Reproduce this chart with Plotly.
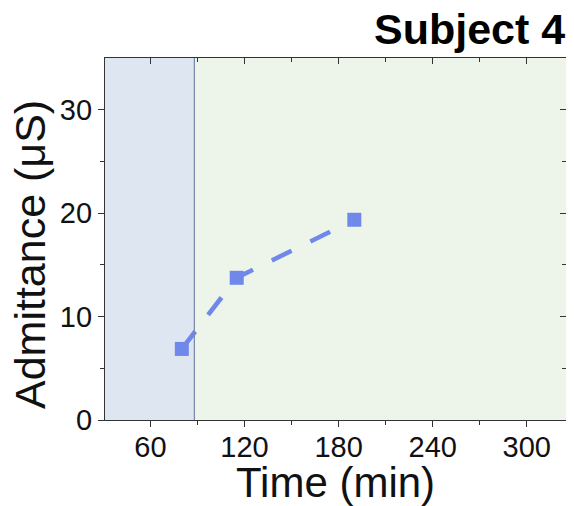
import plotly.graph_objects as go

time_min = [80, 115, 190]
admittance_uS = [6.87, 13.75, 19.36]
x_ticks = [60, 120, 180, 240, 300]
x_minor = [90, 150, 210, 270]
y_ticks = [0, 10, 20, 30]
y_minor = [5, 15, 25]
phase_split = 88
x_range = [31, 325]
y_range = [0, 35]

# page body has an 8px margin, so the figure is drawn 8px smaller and offset
OFF = 8
W, H = 574 - OFF, 506 - OFF
L, T = 105 - OFF, 58 - OFF
R, B = W - (566 - OFF), H - (420 - OFF)
pw, ph = W - L - R, H - T - B


def px_x(x):
    return (x - OFF - L) / pw


def px_y(y):
    return (T + ph - (y - OFF)) / ph


fig = go.Figure()
fig.add_vrect(x0=x_range[0], x1=phase_split, fillcolor="#dee6f2", line_width=0, layer="below")
fig.add_vrect(x0=phase_split, x1=x_range[1], fillcolor="#edf5ea", line_width=0, layer="below")
fig.add_vline(x=phase_split, line=dict(color="#7888a8", width=1.2))

fig.add_trace(go.Scatter(
    x=time_min, y=admittance_uS, mode="lines+markers",
    line=dict(color="#6f88ea", width=4.6, dash="22px,21px"),
    marker=dict(symbol="square", size=14, color="#6f88ea"),
    showlegend=False,
))
fig.add_trace(go.Scatter(x=[None], y=[None], xaxis="x2", yaxis="y2", showlegend=False))

fam = "Liberation Sans, Arial, sans-serif"
tickfont = dict(family=fam, size=29, color="#111")
common = dict(showgrid=False, zeroline=False, showline=True, linecolor="#333",
              linewidth=1.3, automargin=False)

fig.update_layout(
    width=W, height=H,
    margin=dict(l=L, r=R, t=T, b=B),
    plot_bgcolor="white", paper_bgcolor="white",
    xaxis=dict(range=x_range, tickvals=x_ticks, ticks="outside", ticklen=6, tickwidth=1.3,
               tickcolor="#333", tickfont=tickfont, ticklabelstandoff=-5,
               minor=dict(tickvals=x_minor, ticks="outside", ticklen=4, tickcolor="#333", tickwidth=1.3),
               **common),
    yaxis=dict(range=y_range, tickvals=y_ticks, ticks="outside", ticklen=6, tickwidth=1.3,
               tickcolor="#333", tickfont=tickfont,
               minor=dict(tickvals=y_minor, ticks="outside", ticklen=4, tickcolor="#333", tickwidth=1.3),
               **common),
    xaxis2=dict(range=x_range, overlaying="x", side="top", tickvals=x_ticks, ticks="inside",
                ticklen=6, tickwidth=1.3, tickcolor="#333", showticklabels=False,
                minor=dict(tickvals=x_minor, ticks="inside", ticklen=4, tickcolor="#333", tickwidth=1.3),
                **common),
    yaxis2=dict(range=y_range, overlaying="y", side="right", tickvals=y_ticks, ticks="inside",
                ticklen=6, tickwidth=1.3, tickcolor="#333", showticklabels=False,
                minor=dict(tickvals=y_minor, ticks="inside", ticklen=4, tickcolor="#333", tickwidth=1.3),
                **common),
    annotations=[
        dict(text="Time (min)", xref="paper", yref="paper", x=0.5, y=px_y(482),
             xanchor="center", yanchor="middle", showarrow=False,
             font=dict(family=fam, size=42, color="#111")),
        dict(text="Admittance (μS)", xref="paper", yref="paper", x=px_x(30),
             y=px_y(255), xanchor="center", yanchor="middle", textangle=-90,
             showarrow=False, font=dict(family=fam, size=43, color="#111")),
        dict(text="<b>Subject 4</b>", xref="paper", yref="paper", x=px_x(567),
             y=px_y(29), xanchor="right", yanchor="middle", showarrow=False,
             font=dict(family=fam, size=43, color="#000")),
    ],
)

fig.write_html("out.html")
